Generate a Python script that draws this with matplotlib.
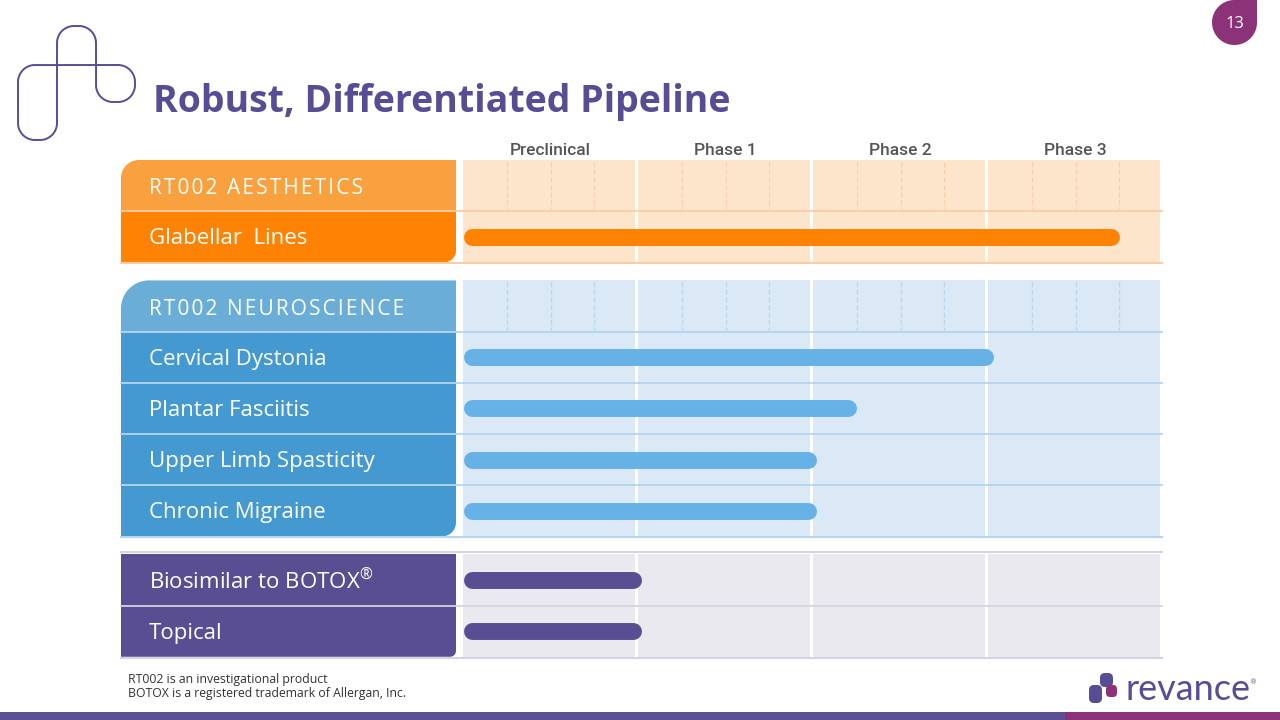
import numpy as np
import matplotlib.pyplot as plt
from matplotlib.patches import Polygon, Rectangle, FancyBboxPatch

title = "Robust, Differentiated Pipeline"
phases = ["Preclinical", "Phase 1", "Phase 2", "Phase 3"]

aesthetics_rows = ["Glabellar  Lines"]
aesthetics_progress = [3.75]
neuro_rows = ["Cervical Dystonia", "Plantar Fasciitis", "Upper Limb Spasticity", "Chronic Migraine"]
neuro_progress = [3.03, 2.25, 2.02, 2.02]
other_rows = ["Biosimilar to BOTOX®", "Topical"]
other_progress = [1.02, 1.02]

notes = ["RT002 is an investigational product", "BOTOX is a registered trademark of Allergan, Inc."]

PURPLE = "#574D95"
FONTS = ["Open Sans", "DejaVu Sans"]
groups = [
    dict(header="RT002 AESTHETICS", rows=aesthetics_rows, prog=aesthetics_progress,
         head_c="#F9A03F", cell_c="#FE8304", bar_c="#FF8200", bg="#FDE5CC",
         dash="#F7CFAA", line="#F9CDA6", tl=18, br=12),
    dict(header="RT002 NEUROSCIENCE", rows=neuro_rows, prog=neuro_progress,
         head_c="#6AAED8", cell_c="#4499D1", bar_c="#66B2E6", bg="#DAE9F5",
         dash="#B9D6EC", line="#B3D4ED", tl=28, br=14),
    dict(header=None, rows=other_rows, prog=other_progress,
         head_c=None, cell_c="#5A4E93", bar_c="#5A4E93", bg="#EBE9F0",
         dash=None, line="#D5D3E1", tl=0, br=6),
]

PX = 175.0        # pixels per phase
ORIGIN = 463.0    # pixel x of phase 0
ROW_H = 51.2
GAP = 18.0


def px(x):
    return (x - ORIGIN) / PX


def arc(cx, cy, rx, ry, t0, t1, n=20):
    t = np.radians(np.linspace(t0, t1, n))
    return np.column_stack([cx + rx * np.cos(t), cy - ry * np.sin(t)])


def cell(ax, x0, x1, y0, y1, color, tl=0, br=0):
    pts = []
    if tl:
        pts.append(arc(x0 + tl / PX, y0 + tl, tl / PX, tl, 180, 90))
    else:
        pts.append([[x0, y0]])
    pts.append([[x1, y0]])
    if br:
        pts.append(arc(x1 - br / PX, y1 - br, br / PX, br, 0, -90))
    else:
        pts.append([[x1, y1]])
    pts.append([[x0, y1]])
    ax.add_patch(Polygon(np.vstack(pts), closed=True, fc=color, ec="none", zorder=2))


fig = plt.figure(figsize=(12.8, 7.2), dpi=100)
plt.rcParams["mathtext.fontset"] = "custom"
plt.rcParams["mathtext.rm"] = "Open Sans"

# decoration layer in pixel coordinates
bg = fig.add_axes([0, 0, 1, 1])
bg.set_xlim(0, 1280)
bg.set_ylim(720, 0)
bg.axis("off")

# logo outline
r = 17
logo = [np.array([[57, 65], [57, 26 + r]])]
logo.append(arc(57 + r, 26 + r, r, r, 180, 90))
logo.append(arc(96 - r, 26 + r, r, r, 90, 0))
logo.append(arc(96 + r, 102 - r, r, r, 180, 270))
logo.append(arc(135 - r, 102 - r, r, r, 270, 360))
logo.append(arc(135 - r, 65 + r, r, r, 0, 90))
logo.append(arc(18 + r, 65 + r, r, r, 90, 180))
logo.append(arc(18 + r, 140 - r, r, r, 180, 270))
logo.append(arc(57 - r, 140 - r, r, r, 270, 360))
logo.append(np.array([[57, 65]]))
logo = np.vstack(logo)
bg.plot(logo[:, 0], logo[:, 1], color=PURPLE, lw=1.4)

bg.text(153, 112, title, fontsize=27, fontweight="bold", color=PURPLE,
        family="Open Sans", va="baseline", ha="left")

# page badge
badge = np.vstack([arc(1234.5, 22.5, 22.5, 22.5, 90, 360, 60), [[1257, 0]]])
bg.add_patch(Polygon(badge, closed=True, fc="#8B3278", ec="none"))
bg.text(1235, 24, "13", color="white", fontsize=12, ha="center", va="center", family="Open Sans")

# footer
bg.text(128, 673, "\n".join(notes), fontsize=8.8, color="#333333", family="Open Sans",
        va="top", ha="left", linespacing=1.05)
bg.add_patch(Rectangle((0, 712), 1065, 8, fc="#5B4F94", ec="none"))
bg.add_patch(Rectangle((1065, 712), 215, 8, fc="#8B3378", ec="none"))

# revance logo
bg.add_patch(FancyBboxPatch((1089, 685), 13, 18, boxstyle="round,pad=0,rounding_size=5", fc=PURPLE, ec="none"))
bg.add_patch(FancyBboxPatch((1100, 673), 13, 14, boxstyle="round,pad=0,rounding_size=5", fc=PURPLE, ec="none"))
bg.add_patch(FancyBboxPatch((1106, 685), 11, 12, boxstyle="round,pad=0,rounding_size=4", fc="#8B3278", ec="none"))
bg.text(1125, 700, "revance", fontsize=26, color=PURPLE, family="Lato", va="baseline", ha="left")
bg.text(1250, 684, "®", fontsize=5, color=PURPLE, family="DejaVu Sans", va="baseline", ha="left")

# chart layer: x in phases, y in pixels
ax = fig.add_axes([120 / 1280, 1 - 665 / 720, (1165 - 120) / 1280, (665 - 140) / 720])
ax.set_xlim(px(120), px(1165))
ax.set_ylim(665, 140)
ax.axis("off")

for i, ph in enumerate(phases):
    ax.text(i + 0.5, 150, ph, ha="center", va="center", fontsize=12.5,
            color="#555555", family="Roboto", fontweight="medium")

x_left, x_right, x_end = px(121), px(456), px(1162)
cap = 8.5 / PX
y = 160.0
for g in groups:
    top = y
    rows = []
    if g["header"]:
        rows.append(("head", g["header"], None))
    for lab, p in zip(g["rows"], g["prog"]):
        rows.append(("row", lab, p))
    bottom = top + ROW_H * len(rows)

    # grid columns
    for i in range(len(phases)):
        ax.add_patch(Rectangle((i, top), 0.983, bottom - top, fc=g["bg"], ec="none", zorder=1))

    for k, (kind, lab, p) in enumerate(rows):
        y0 = top + k * ROW_H
        y1 = y0 + ROW_H
        yc = (y0 + y1) / 2
        tl = g["tl"] if k == 0 else 0
        br = g["br"] if k == len(rows) - 1 else 0
        color = g["head_c"] if kind == "head" else g["cell_c"]
        cell(ax, x_left, x_right, y0, y1, color, tl, br)
        if kind == "head":
            spaced = "\u200a".join(lab)
            ax.text(px(149), yc + 3, spaced, color="white", fontsize=15, family=FONTS,
                    va="center", ha="left", zorder=4)
            for i in range(len(phases)):
                for q in (0.25, 0.5, 0.75):
                    ax.plot([i + q, i + q], [y0 + 2, y1 - 2], color=g["dash"], lw=0.9,
                            ls=(0, (4, 2)), zorder=2)
        else:
            shown = lab.replace("®", r"$^{\mathrm{®}}$")
            ax.text(px(149), yc + 2, shown, color="white", fontsize=16, family=FONTS,
                    va="center", ha="left", zorder=4)
            ax.plot([cap, p - cap], [yc, yc], color=g["bar_c"], lw=12.2,
                    solid_capstyle="round", zorder=3)
        if k < len(rows) - 1:
            ax.plot([x_left, x_end], [y1, y1], color=g["line"], lw=1.3, zorder=3)

    ax.plot([x_left, x_end], [bottom + 1, bottom + 1], color=g["line"], lw=1.5, zorder=3)
    if g["header"] is None:
        ax.plot([x_left, x_end], [top - 2, top - 2], color=g["line"], lw=1.5, zorder=3)
    y = bottom + GAP

fig.savefig("out.png", dpi=100)
